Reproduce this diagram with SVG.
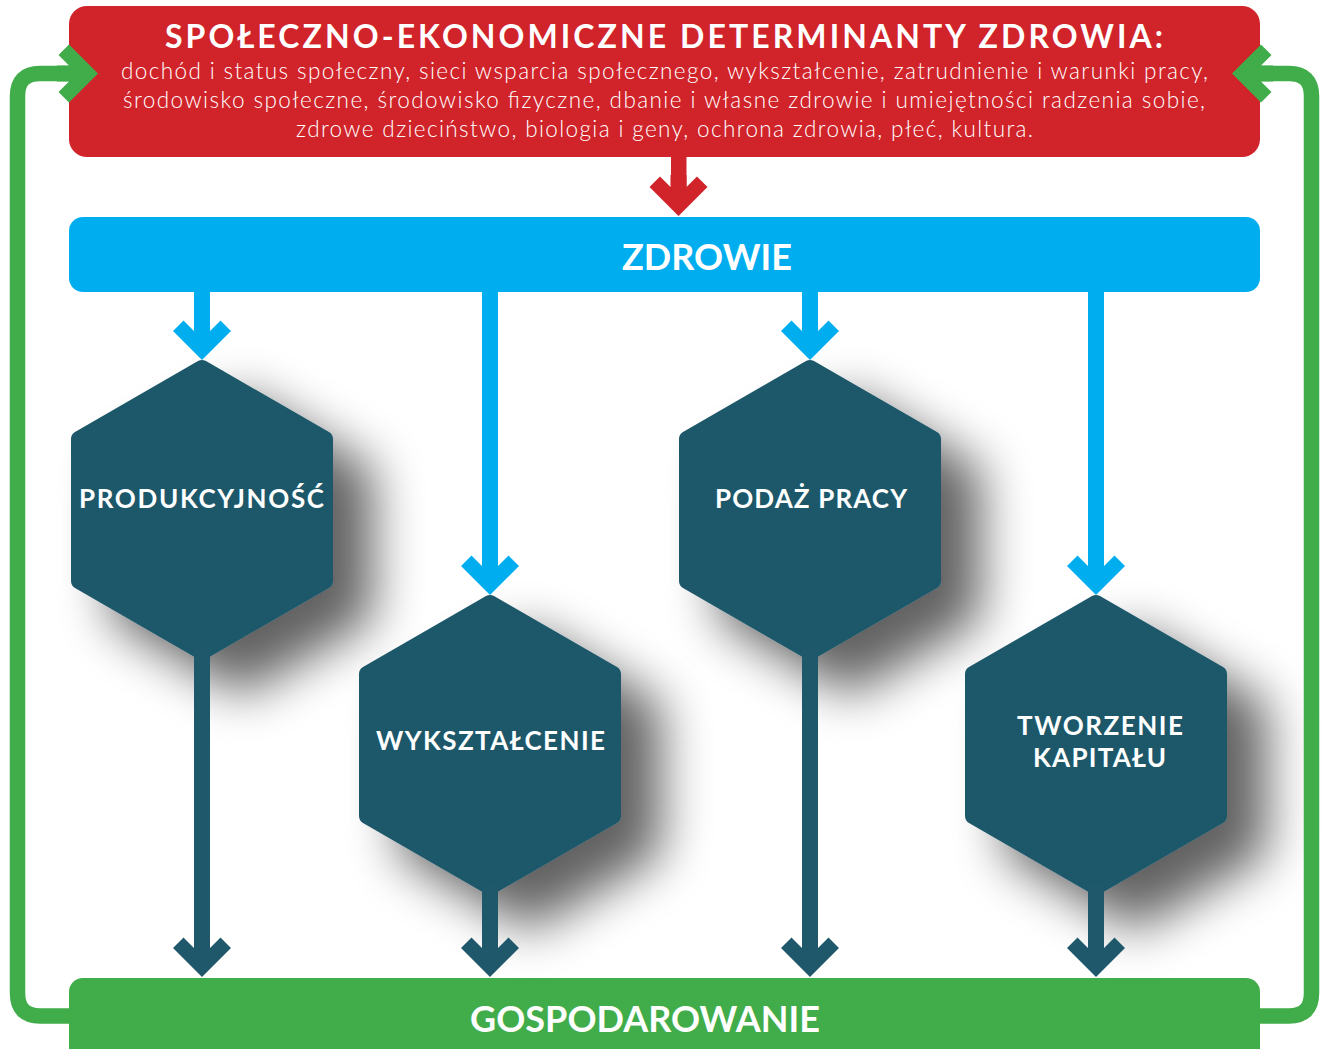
<svg xmlns="http://www.w3.org/2000/svg" xmlns:xlink="http://www.w3.org/1999/xlink" width="1325" height="1049" viewBox="0 0 1325 1049">
<style>
  .t { font-family: "Lato", "Open Sans", "Liberation Sans", sans-serif; fill: #ffffff; }
  .title { font-size: 32px; font-weight: 700; }
  .body { font-size: 22.5px; font-weight: 300; }
  .lbl { font-size: 26px; font-weight: 700; }
  .big { font-size: 36px; font-weight: 700; }
  .hex { fill: #1e586a; stroke: #1e586a; stroke-width: 16; stroke-linejoin: round; }
  .red { fill: #d1232a; }
  .blue { fill: #00aeef; }
  .dark { fill: #1e586a; }
  .green { fill: #41ad4a; }
</style>
<defs>
  <filter id="shadow" x="-40%" y="-40%" width="200%" height="200%">
    <feGaussianBlur in="SourceAlpha" stdDeviation="25"/>
    <feOffset dx="40" dy="34" result="b"/>
    <feComponentTransfer in="b" result="s"><feFuncA type="linear" slope="0.62"/></feComponentTransfer>
    <feMerge><feMergeNode in="s"/><feMergeNode in="SourceGraphic"/></feMerge>
  </filter>
  <polygon id="hexshape" points="0,-142 123,-71 123,71 0,142 -123,71 -123,-71"/>
  <path id="head" d="M0,0 L-29,-29 L-18.5,-39.5 L-8,-29 L-8,-41 L8,-41 L8,-29 L18.5,-39.5 L29,-29 Z"/>
</defs>

<g id="determinants">
  <rect x="69" y="6" width="1191" height="151" rx="18" class="red"/>
  <text class="t title" x="664" y="48" text-anchor="middle" textLength="998" lengthAdjust="spacing">SPOŁECZNO-EKONOMICZNE DETERMINANTY ZDROWIA:</text>
  <text class="t body" x="664.5" y="79" text-anchor="middle" textLength="1087" lengthAdjust="spacing">dochód i status społeczny, sieci wsparcia społecznego, wykształcenie, zatrudnienie i warunki pracy,</text>
  <text class="t body" x="664" y="108" text-anchor="middle" textLength="1082" lengthAdjust="spacing">środowisko społeczne, środowisko fizyczne, dbanie i własne zdrowie i umiejętności radzenia sobie,</text>
  <text class="t body" x="664.5" y="137" text-anchor="middle" textLength="737" lengthAdjust="spacing">zdrowe dzieciństwo, biologia i geny, ochrona zdrowia, płeć, kultura.</text>
</g>

<g id="zdrowie">
  <rect x="69" y="217" width="1191" height="75" rx="14" class="blue"/>
  <text class="t big" x="707" y="270" text-anchor="middle" textLength="170" lengthAdjust="spacing">ZDROWIE</text>
</g>

<g id="produkcyjnosc">
  <use xlink:href="#hexshape" class="hex" transform="translate(202,510)" filter="url(#shadow)"/>
  <text class="t lbl" x="201.5" y="508" text-anchor="middle" textLength="245" lengthAdjust="spacing">PRODUKCYJNOŚĆ</text>
</g>

<g id="wyksztalcenie">
  <use xlink:href="#hexshape" class="hex" transform="translate(490,745)" filter="url(#shadow)"/>
  <text class="t lbl" x="490.5" y="750" text-anchor="middle" textLength="229" lengthAdjust="spacing">WYKSZTAŁCENIE</text>
</g>

<g id="podaz-pracy">
  <use xlink:href="#hexshape" class="hex" transform="translate(810,510)" filter="url(#shadow)"/>
  <text class="t lbl" x="811" y="508" text-anchor="middle" textLength="192" lengthAdjust="spacing">PODAŻ PRACY</text>
</g>

<g id="tworzenie-kapitalu">
  <use xlink:href="#hexshape" class="hex" transform="translate(1096,745)" filter="url(#shadow)"/>
  <text class="t lbl" x="1100" y="735" text-anchor="middle" textLength="166" lengthAdjust="spacing">TWORZENIE</text>
  <text class="t lbl" x="1099.5" y="767" text-anchor="middle" textLength="133" lengthAdjust="spacing">KAPITAŁU</text>
</g>

<g id="gospodarowanie">
  <rect x="69" y="978" width="1191" height="90" rx="14" class="green"/>
  <text class="t big" x="645" y="1032" text-anchor="middle" textLength="350" lengthAdjust="spacing">GOSPODAROWANIE</text>
</g>

<g id="connectors">
  <!-- red arrow -->
  <g class="red">
    <rect x="671" y="150" width="15.5" height="40"/>
    <use xlink:href="#head" transform="translate(678.5,216)"/>
  </g>
  <!-- blue arrows -->
  <g class="blue">
    <rect x="194" y="285" width="16" height="45"/>
    <use xlink:href="#head" transform="translate(202,360)"/>
    <rect x="482" y="285" width="16" height="280"/>
    <use xlink:href="#head" transform="translate(490,595)"/>
    <rect x="802" y="285" width="16" height="45"/>
    <use xlink:href="#head" transform="translate(810,360)"/>
    <rect x="1088" y="285" width="16" height="280"/>
    <use xlink:href="#head" transform="translate(1096,595)"/>
  </g>
  <!-- dark arrows -->
  <g class="dark">
    <rect x="194" y="650" width="16" height="290"/>
    <use xlink:href="#head" transform="translate(202,977)"/>
    <rect x="482" y="885" width="16" height="55"/>
    <use xlink:href="#head" transform="translate(490,977)"/>
    <rect x="802" y="650" width="16" height="290"/>
    <use xlink:href="#head" transform="translate(810,977)"/>
    <rect x="1088" y="885" width="16" height="55"/>
    <use xlink:href="#head" transform="translate(1096,977)"/>
  </g>
  <!-- green feedback loops -->
  <path d="M75,1016 H40 Q17.5,1016 17.5,993 V96 Q17.5,73.5 40,73.5 H72" fill="none" stroke="#41ad4a" stroke-width="15.5"/>
  <path d="M1255,1016 H1289 Q1311.5,1016 1311.5,993 V96 Q1311.5,73.5 1289,73.5 H1258" fill="none" stroke="#41ad4a" stroke-width="15.5"/>
  <g class="green">
    <use xlink:href="#head" transform="translate(98,73.5) rotate(-90)"/>
    <use xlink:href="#head" transform="translate(1232,73.5) rotate(90)"/>
  </g>
</g>
</svg>
